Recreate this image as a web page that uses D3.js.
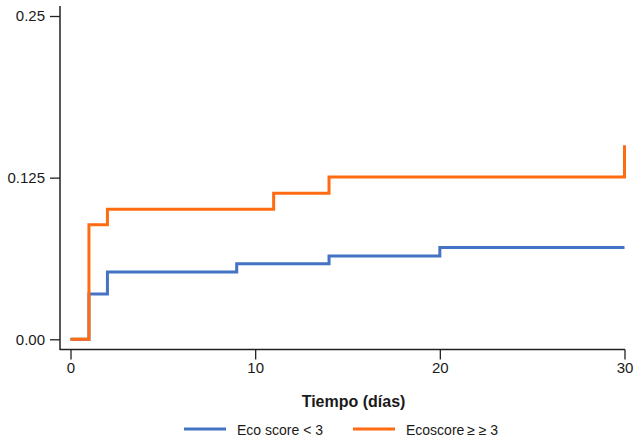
<!DOCTYPE html>
<html><head><meta charset="utf-8">
<script src="https://cdn.jsdelivr.net/npm/d3@7"></script>
<style>body{margin:0;background:#fff}svg{display:block}</style>
</head><body>
<script>
const timesLow = [0, 1, 2, 9, 14, 20, 30];
const valuesLow = [0, 0.035, 0.052, 0.0585, 0.0645, 0.071, 0.071];
const timesHigh = [0, 1, 2, 11, 14, 30];
const valuesHigh = [0, 0.0885, 0.1005, 0.113, 0.1255, 0.150];
const seriesNames = ["Eco score < 3", "Ecoscore\u2009\u2265 \u2265 3"];
const xTicks = [0, 10, 20, 30];
const yTicks = [0, 0.125, 0.25];
const yTickLabels = ["0.00", "0.125", "0.25"];
const colors = ["#4472c4", "#ff6b12"];

const W = 636, H = 442;
const svg = d3.select("body").append("svg").attr("width", W).attr("height", H);
const font = "'Liberation Sans', Arial, Helvetica, sans-serif";
const x = d3.scaleLinear().domain([0, 30]).range([70.5, 624.5]);
const y = d3.scaleLinear().domain([0, 0.25]).range([339.3, 16]);
const axisColor = "#222";

// axes
const xa = svg.append("g").attr("transform", "translate(0,349.5)")
  .call(d3.axisBottom(x).tickValues(xTicks).tickFormat(d3.format("d")).tickSize(10).tickSizeOuter(0).tickPadding(3));
xa.select(".domain").remove();
svg.append("line").attr("x1", 60).attr("x2", 625).attr("y1", 349.5).attr("y2", 349.5)
  .attr("stroke", axisColor).attr("stroke-width", 1.5);

const ya = svg.append("g").attr("transform", "translate(60,0)")
  .call(d3.axisLeft(y).tickValues(yTicks).tickFormat((d, i) => yTickLabels[i]).tickSize(10).tickSizeOuter(0).tickPadding(5));
ya.select(".domain").remove();
svg.append("line").attr("x1", 60).attr("x2", 60).attr("y1", 6).attr("y2", 350)
  .attr("stroke", axisColor).attr("stroke-width", 1.5);

[xa, ya].forEach(g => {
  g.selectAll(".tick line").attr("stroke", axisColor).attr("stroke-width", 1.3);
  g.selectAll(".tick text").attr("fill", "#1a1a1a").style("font-family", font).style("font-size", "15px");
});

// lines
const line = d3.line().x(d => x(d[0])).y(d => y(d[1])).curve(d3.curveStepAfter);
const dataLow = timesLow.map((t, i) => [t, valuesLow[i]]);
const dataHigh = timesHigh.map((t, i) => [t, valuesHigh[i]]);
[dataLow, dataHigh].forEach((d, i) => {
  svg.append("path").datum(d).attr("d", line).attr("fill", "none")
    .attr("stroke", colors[i]).attr("stroke-width", 3);
});

// title
svg.append("text").attr("x", 353.5).attr("y", 406.5).attr("text-anchor", "middle")
  .style("font-family", font).style("font-size", "16px").style("font-weight", "bold")
  .attr("fill", "#1a1a1a").text("Tiempo (días)");

// legend
const legX = [184, 353];
seriesNames.forEach((n, i) => {
  svg.append("line").attr("x1", legX[i]).attr("x2", legX[i] + 42).attr("y1", 429).attr("y2", 429)
    .attr("stroke", colors[i]).attr("stroke-width", 3);
  svg.append("text").attr("x", legX[i] + 53).attr("y", 435).style("font-family", font)
    .style("font-size", "14px").attr("fill", "#1a1a1a").text(n);
});
</script>
</body></html>
